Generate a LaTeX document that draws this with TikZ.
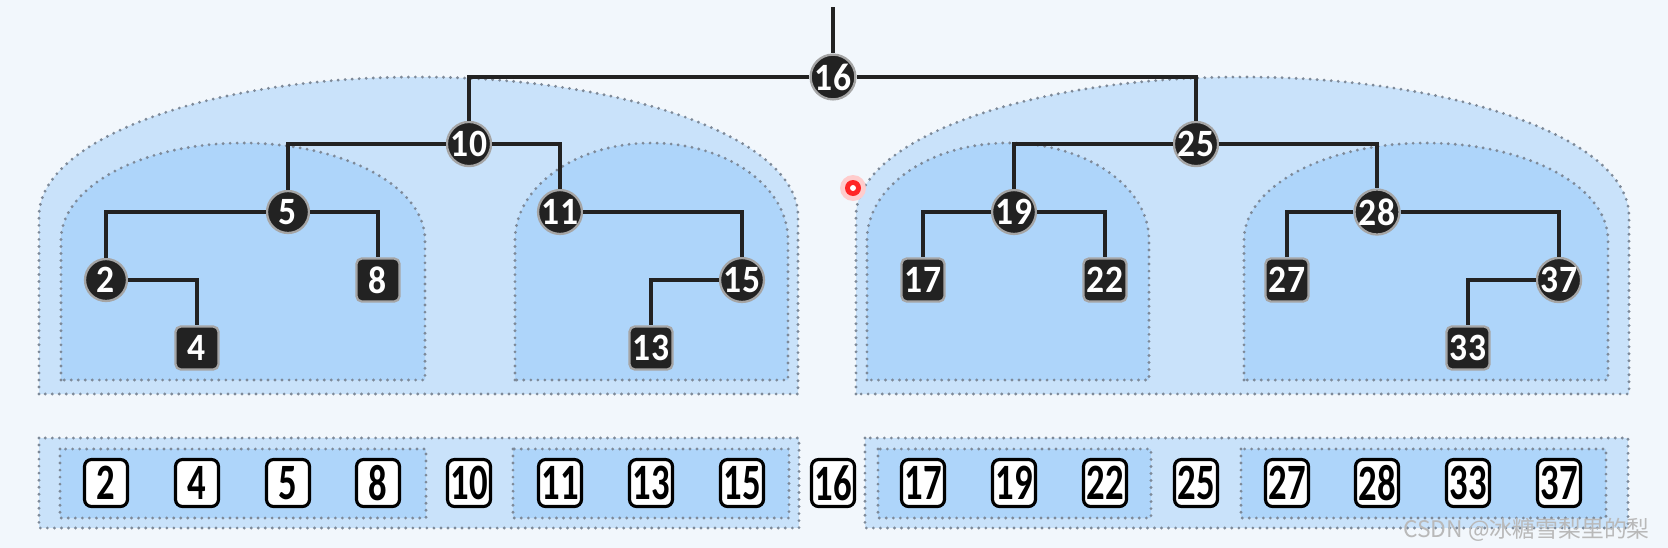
\documentclass[tikz,border=0pt]{standalone}
\usepackage{fontspec}
\setmainfont{Carlito}
\newfontfamily\nodefont[FakeStretch=0.92]{Carlito}
\newfontfamily\cellfont[FakeStretch=0.72]{Carlito}
\newfontfamily\cjk{Noto Sans CJK SC}
\definecolor{paper}{RGB}{242,247,252}
\definecolor{zoneout}{RGB}{201,226,250}
\definecolor{zonein}{RGB}{174,213,250}
\definecolor{dotgray}{RGB}{125,137,152}
\definecolor{inkdark}{RGB}{34,34,34}
\definecolor{rimgray}{RGB}{165,165,165}

\begin{document}
\begin{tikzpicture}[x=0.02cm, y=0.02cm,
    outerzone/.style={fill=zoneout, draw=dotgray, line width=1.8pt, line cap=round, dash pattern=on 0pt off 4pt},
    innerzone/.style={outerzone, fill=zonein},
    branch/.style={draw=inkdark, line width=2.3pt},
    ball/.style={circle, fill=inkdark, draw=rimgray, line width=1.3pt, minimum size=0.84cm, inner sep=0pt, text=white, font=\nodefont\bfseries\fontsize{22}{22}\selectfont},
    leaf/.style={ball, rectangle, rounded corners=3pt, minimum width=0.86cm, minimum height=0.86cm},
    cell/.style={rectangle, rounded corners=4pt, draw=black, line width=1.8pt, fill=white, minimum width=0.86cm, minimum height=0.94cm, inner sep=0pt, font=\cellfont\bfseries\fontsize{29}{29}\selectfont}]
        \fill[paper] (0,0) rectangle (1668,-548);

        % subtree zones
        \draw[outerzone] (39,-394) -- (39,-216) arc[start angle=180, end angle=0, x radius=379.5, y radius=139] -- (798,-394) -- cycle;
        \draw[outerzone] (856,-394) -- (856,-216) arc[start angle=180, end angle=0, x radius=386.5, y radius=139] -- (1629,-394) -- cycle;
        \draw[innerzone] (61,-380) -- (61,-240) arc[start angle=180, end angle=0, x radius=182, y radius=97] -- (425,-380) -- cycle;
        \draw[innerzone] (515,-380) -- (515,-240) arc[start angle=180, end angle=0, x radius=136.5, y radius=97] -- (788,-380) -- cycle;
        \draw[innerzone] (867,-380) -- (867,-240) arc[start angle=180, end angle=0, x radius=141, y radius=97] -- (1149,-380) -- cycle;
        \draw[innerzone] (1244,-380) -- (1244,-240) arc[start angle=180, end angle=0, x radius=182, y radius=97] -- (1608,-380) -- cycle;

        % array zones
        \draw[outerzone] (39,-438) rectangle (799,-528);
        \draw[outerzone] (865,-438) rectangle (1628,-528);
        \draw[innerzone] (60,-449) rectangle (426,-518);
        \draw[innerzone] (513,-449) rectangle (789,-518);
        \draw[innerzone] (878,-449) rectangle (1151,-518);
        \draw[innerzone] (1241,-449) rectangle (1606,-518);

        % tree
        \coordinate (stem) at (833,-7);
        \node[ball] (n16) at (833,-77) {16};
        \node[ball] (n10) at (469,-144) {10};
        \node[ball] (n25) at (1196,-144) {25};
        \node[ball] (n5) at (288,-212) {5};
        \node[ball] (n11) at (560,-212) {11};
        \node[ball] (n19) at (1014,-212) {19};
        \node[ball] (n28) at (1377,-212) {28};
        \node[ball] (n2) at (106,-280) {2};
        \node[leaf] (n8) at (378,-280) {8};
        \node[ball] (n15) at (742,-280) {15};
        \node[leaf] (n17) at (923,-280) {17};
        \node[leaf] (n22) at (1105,-280) {22};
        \node[leaf] (n27) at (1287,-280) {27};
        \node[ball] (n37) at (1559,-280) {37};
        \node[leaf] (n4) at (197,-348) {4};
        \node[leaf] (n13) at (651,-348) {13};
        \node[leaf] (n33) at (1468,-348) {33};

        \draw[branch] (stem) -- (n16);
        \draw[branch] (n16) -| (n10);
        \draw[branch] (n16) -| (n25);
        \draw[branch] (n10) -| (n5);
        \draw[branch] (n10) -| (n11);
        \draw[branch] (n5) -| (n2);
        \draw[branch] (n5) -| (n8);
        \draw[branch] (n2) -| (n4);
        \draw[branch] (n11) -| (n15);
        \draw[branch] (n15) -| (n13);
        \draw[branch] (n25) -| (n19);
        \draw[branch] (n25) -| (n28);
        \draw[branch] (n19) -| (n17);
        \draw[branch] (n19) -| (n22);
        \draw[branch] (n28) -| (n27);
        \draw[branch] (n28) -| (n37);
        \draw[branch] (n37) -| (n33);

        % sorted array
        \node[cell] (a2) at (106,-483) {2};
        \node[cell] (a4) at (197,-483) {4};
        \node[cell] (a5) at (288,-483) {5};
        \node[cell] (a8) at (378,-483) {8};
        \node[cell] (a10) at (469,-483) {10};
        \node[cell] (a11) at (560,-483) {11};
        \node[cell] (a13) at (651,-483) {13};
        \node[cell] (a15) at (742,-483) {15};
        \node[cell] (a16) at (833,-483) {16};
        \node[cell] (a17) at (923,-483) {17};
        \node[cell] (a19) at (1014,-483) {19};
        \node[cell] (a22) at (1105,-483) {22};
        \node[cell] (a25) at (1196,-483) {25};
        \node[cell] (a27) at (1287,-483) {27};
        \node[cell] (a28) at (1377,-483) {28};
        \node[cell] (a33) at (1468,-483) {33};
        \node[cell] (a37) at (1559,-483) {37};

        % pointer dot
        \fill[red!20] (853,-188) circle[radius=13];
        \fill[red!85] (853,-188) circle[radius=8];
        \fill[white] (853,-188) circle[radius=3];

        \node[anchor=east, text=gray!55, font=\cjk\fontsize{13}{13}\selectfont] (mark) at (1656,-530) {CSDN @冰糖雪梨里的梨};
\end{tikzpicture}
\end{document}
